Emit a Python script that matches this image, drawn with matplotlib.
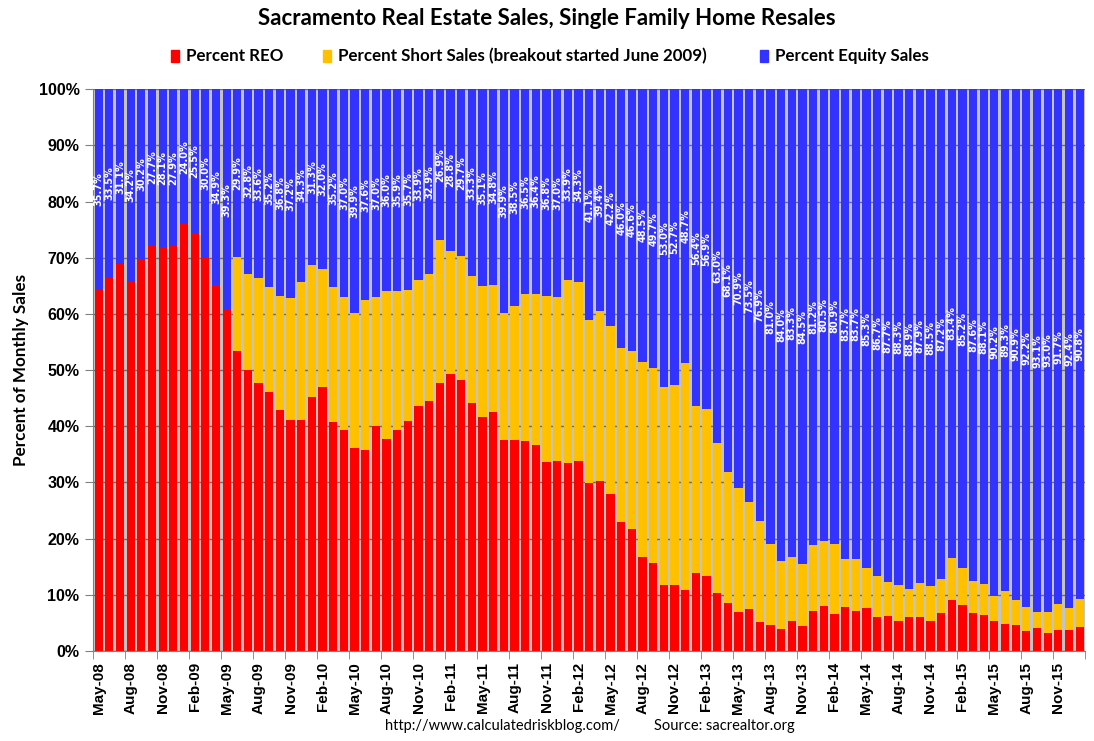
import numpy as np
import pandas as pd
import matplotlib
matplotlib.use("Agg")
import matplotlib.pyplot as plt
from matplotlib.patches import Rectangle

# monthly sales mix, May-08 .. Jan-16 (percent of monthly sales)
months = pd.date_range("2008-05-01", periods=93, freq="MS").strftime("%b-%y").tolist()

reo = [64.3, 66.5, 68.9, 65.8, 69.8, 72.3, 71.9, 72.1, 76.0, 74.5, 70.0, 65.1,
       60.7, 53.4, 50.0, 47.7, 46.1, 42.9, 41.1, 41.1, 45.2, 47.0, 40.8, 39.3,
       36.1, 35.8, 40.1, 37.7, 39.3, 40.9, 43.6, 44.5, 47.7, 49.3, 48.3, 44.1,
       41.7, 42.6, 37.5, 37.5, 37.3, 36.6, 33.6, 33.8, 33.4, 33.9, 29.9, 30.3,
       27.9, 22.9, 21.8, 16.7, 15.6, 11.7, 11.7, 10.8, 13.8, 13.4, 10.4, 8.6,
       7.0, 7.5, 5.2, 4.6, 3.9, 5.4, 4.5, 7.1, 8.0, 6.6, 7.9, 7.1,
       7.7, 6.1, 6.2, 5.4, 6.1, 6.1, 5.4, 6.8, 9.1, 8.2, 6.8, 6.4,
       5.4, 4.8, 4.6, 3.6, 4.1, 3.2, 3.8, 3.8, 4.3]

short = [0, 0, 0, 0, 0, 0, 0, 0, 0, 0, 0, 0,
         0, 16.7, 17.2, 18.7, 18.7, 20.3, 21.7, 24.6, 23.5, 21.0, 24.0, 23.7,
         24.0, 26.6, 22.9, 26.3, 24.8, 23.4, 22.5, 22.6, 25.4, 21.9, 22.0, 22.6,
         23.2, 22.6, 22.6, 24.0, 26.2, 27.0, 29.6, 29.2, 32.7, 31.8, 29.0, 30.3,
         29.9, 31.1, 31.6, 34.8, 34.7, 35.3, 35.6, 40.5, 29.8, 29.7, 26.6, 23.3,
         22.1, 19.0, 17.9, 14.4, 12.1, 11.3, 11.0, 11.7, 11.5, 12.5, 8.4, 9.2,
         7.0, 7.2, 6.1, 6.3, 5.0, 6.0, 6.1, 6.0, 7.5, 6.6, 5.6, 5.5,
         4.4, 5.9, 4.5, 4.2, 2.8, 3.8, 4.5, 3.8, 4.9]

equity = [35.7, 33.5, 31.1, 34.2, 30.2, 27.7, 28.1, 27.9, 24.0, 25.5, 30.0, 34.9,
          39.3, 29.9, 32.8, 33.6, 35.2, 36.8, 37.2, 34.3, 31.3, 32.0, 35.2, 37.0,
          39.9, 37.6, 37.0, 36.0, 35.9, 35.7, 33.9, 32.9, 26.9, 28.8, 29.7, 33.3,
          35.1, 34.8, 39.9, 38.5, 36.5, 36.4, 36.8, 37.0, 33.9, 34.3, 41.1, 39.4,
          42.2, 46.0, 46.6, 48.5, 49.7, 53.0, 52.7, 48.7, 56.4, 56.9, 63.0, 68.1,
          70.9, 73.5, 76.9, 81.0, 84.0, 83.3, 84.5, 81.2, 80.5, 80.9, 83.7, 83.7,
          85.3, 86.7, 87.7, 88.3, 88.9, 87.9, 88.5, 87.2, 83.4, 85.2, 87.6, 88.1,
          90.2, 89.3, 90.9, 92.2, 93.1, 93.0, 91.7, 92.4, 90.8]

RED = "#ff0000"
GOLD = "#ffc000"
BLUE = "#3333ff"
LABEL_FONT = ["Lato", "DejaVu Sans"]
TICK_FONT = ["Liberation Sans", "DejaVu Sans"]

reo = np.array(reo)
short = np.array(short)
equity = np.array(equity)
x = np.arange(len(months))

fig = plt.figure(figsize=(10.94, 7.41), dpi=100)
ax = fig.add_axes([0.0853, 0.1215, 0.9065, 0.758])
ax.set_facecolor("#c4c4c4")

w = 0.77
ax.bar(x, reo, width=w, color=RED, zorder=2)
ax.bar(x, short, width=w, bottom=reo, color=GOLD, zorder=2)
ax.bar(x, equity, width=w, bottom=reo + short, color=BLUE, zorder=2)

# equity labels, centred in the blue segment
for xi, b, e in zip(x, reo + short, equity):
    ax.text(xi, b + e / 2, "%.1f%%" % e, rotation=90, ha="center", va="center",
            color="white", fontsize=7, fontweight="bold", family="DejaVu Sans",
            zorder=3)

ax.set_xlim(-0.5, len(months) - 0.5)
ax.set_ylim(0, 100)

ax.set_yticks(np.arange(0, 101, 10))
ax.set_yticklabels(["%d%%" % v for v in range(0, 101, 10)],
                   fontsize=11.5, fontweight="bold", family=TICK_FONT)
ax.yaxis.grid(True, color="#6e6e6e", linewidth=1.0, zorder=1)
ax.set_axisbelow(True)

ax.set_xticks(x[::3])
ax.set_xticklabels(months[::3], rotation=90, fontsize=11, fontweight="bold",
                   family=TICK_FONT)
ax.set_xticks(np.arange(-0.5, len(months), 3), minor=True)
ax.tick_params(axis="x", which="major", length=0, pad=8)
ax.tick_params(axis="x", which="minor", length=6, color="#808080")
ax.tick_params(axis="y", length=6, color="#808080", pad=4)

for s in ["top", "right"]:
    ax.spines[s].set_visible(False)
for s in ["left", "bottom"]:
    ax.spines[s].set_color("#808080")

ax.set_ylabel("Percent of Monthly Sales", fontsize=12.3, fontweight="bold",
              family=LABEL_FONT, labelpad=7)

fig.text(0.5, 0.975, "Sacramento Real Estate Sales, Single Family Home Resales",
         ha="center", va="center", fontsize=16, fontweight="bold", family=LABEL_FONT)

# legend row
legend_items = [("Percent REO", RED, 171),
                ("Percent Short Sales (breakout started June 2009)", GOLD, 323),
                ("Percent Equity Sales", BLUE, 760)]
W, H = 1094.0, 741.0
for name, col, px in legend_items:
    fig.patches.append(Rectangle((px / W, 1 - 62 / H), 8 / W, 12 / H,
                                 transform=fig.transFigure, color=col))
    fig.text((px + 15) / W, 1 - 56 / H, name, ha="left", va="center",
             fontsize=12.2, fontweight="bold", family=LABEL_FONT)

fig.text(385 / W, 1 - 726 / H, "http://www.calculatedriskblog.com/", ha="left",
         va="center", fontsize=10.5, family=LABEL_FONT)
fig.text(654 / W, 1 - 726 / H, "Source: sacrealtor.org", ha="left",
         va="center", fontsize=10.5, family=LABEL_FONT)

fig.savefig("out.png", dpi=100)
